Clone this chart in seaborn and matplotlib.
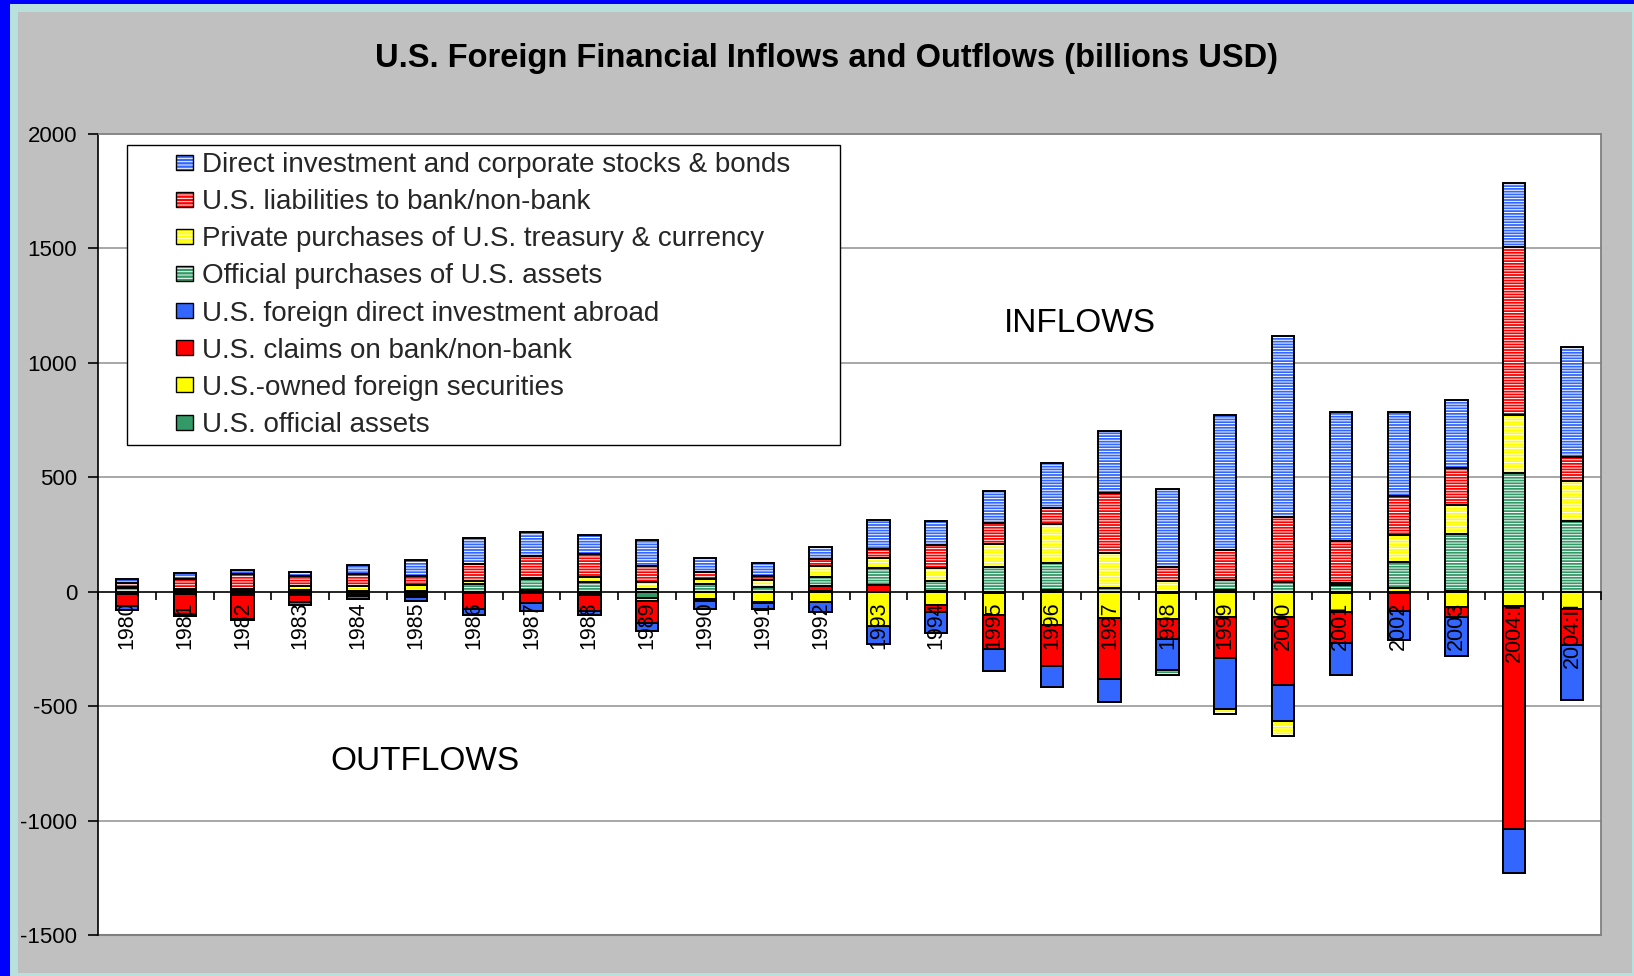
import matplotlib
matplotlib.use("Agg")
import matplotlib.pyplot as plt
from matplotlib.patches import Rectangle, Patch
from matplotlib.legend_handler import HandlerBase
from matplotlib.ticker import MultipleLocator
import numpy as np
import pandas as pd
import seaborn as sns

# ---- data (billions USD; inflows positive, outflows negative) ----
periods = ["1980", "1981", "1982", "1983", "1984", "1985", "1986", "1987", "1988",
           "1989", "1990", "1991", "1992", "1993", "1994", "1995", "1996", "1997",
           "1998", "1999", "2000", "2001", "2002", "2003", "2004:I", "2004:II"]

direct_investment = [21, 24, 19, 18, 38, 70, 113, 104, 86, 113, 58, 57, 52, 128, 104,
                     138, 198, 270, 337, 590, 790, 565, 370, 297, 282, 480]
liabilities = [16, 42, 62, 45, 50, 42, 76, 95, 100, 72, 34, 18, 30, 40, 104,
               92, 70, 265, 65, 130, 285, 182, 170, 160, 731, 105]
private_treasury = [6, 8, 10, 18, 24, 26, 10, 7, 22, 30, 20, 30, 48, 45, 55,
                    100, 168, 150, 45, -22, -65, 12, 118, 128, 255, 173]
official_purchases = [15, 6, 4, 6, 3, 3, 36, 45, 42, 12, 34, 22, 40, 72, 42,
                      110, 120, 18, -20, 43, 43, 28, 113, 250, 519, 310]
fdi_abroad = [-19, -10, -3, -13, -13, -17, -25, -36, -20, -33, -34, -26, -42, -80, -92,
              -97, -92, -100, -138, -220, -160, -140, -130, -170, -193, -240]
claims = [-50, -84, -105, -32, -12, -12, -70, -42, -70, -95, -12, -6, 20, 30, -30,
          -150, -180, -265, -85, -180, -295, -135, -78, -44, -975, -158]
foreign_securities = [-4, -6, -8, -7, -5, -8, -5, -5, -8, -17, -28, -42, -45, -146, -57,
                      -95, -145, -115, -115, -110, -110, -85, 16, -66, -62, -75]
official_assets = [-7, -5, -5, -6, -3, -4, -1, 9, -4, -25, -2, -3, 4, -2, 5,
                   -5, 7, -1, -4, 9, 0, -5, -4, 2, 0, 0]

# stacking order, from the zero line outward
series = [
    ("U.S. official assets", official_assets, "#339966", False),
    ("U.S.-owned foreign securities", foreign_securities, "#FFFF00", False),
    ("U.S. claims on bank/non-bank", claims, "#FF0000", False),
    ("U.S. foreign direct investment abroad", fdi_abroad, "#3366FF", False),
    ("Official purchases of U.S. assets", official_purchases, "#339966", True),
    ("Private purchases of U.S. treasury & currency", private_treasury, "#FFFF00", True),
    ("U.S. liabilities to bank/non-bank", liabilities, "#FF0000", True),
    ("Direct investment and corporate stocks & bonds", direct_investment, "#3366FF", True),
]

sns.set_style("white")
plt.rcParams["font.family"] = ["Liberation Sans", "DejaVu Sans"]
plt.rcParams["hatch.linewidth"] = 0.7
plt.rcParams["axes.unicode_minus"] = False

W, H = 1634, 976
HATCH = "------"
BAR_W = 0.386

fig = plt.figure(figsize=(W / 100, H / 100), dpi=100)
fig.patch.set_facecolor("#0000FF")
fig.add_artist(Rectangle((10 / W, 0), 1 - 10 / W, 1 - 4 / H, transform=fig.transFigure,
                         facecolor="#B8E0DC", edgecolor="none", zorder=-10))
fig.add_artist(Rectangle((18 / W, 3 / H), 1614 / W, 961 / H, transform=fig.transFigure,
                         facecolor="#C0C0C0", edgecolor="none", zorder=-9))

ax = fig.add_axes([98 / W, (976 - 935.3) / H, 1503 / W, (935.3 - 133.8) / H])
ax.set_facecolor("white")

# horizontal gridlines behind the bars
for yv in (-1000, -500, 500, 1000, 1500):
    ax.axhline(yv, color="#A0A0A0", linewidth=1.3, zorder=0)
ax.axhline(-1500, color="#808080", linewidth=1.5, clip_on=False, zorder=0)

vals = np.array([s[1] for s in series], dtype=float)
pos_cum = np.clip(vals, 0, None).cumsum(axis=0)
neg_cum = np.clip(vals, None, 0).cumsum(axis=0)

# draw cumulative totals from the outermost series inward so each layer shows its own slice
for k in reversed(range(len(series))):
    name, _, color, hatched = series[k]
    for cum in (pos_cum[k], neg_cum[k]):
        df = pd.DataFrame({"period": periods, "value": cum})
        sns.barplot(data=df, x="period", y="value", order=periods, color=color,
                    saturation=1, width=BAR_W, errorbar=None, ax=ax,
                    hatch=HATCH if hatched else None,
                    edgecolor="white" if hatched else color, linewidth=0)
        sns.barplot(data=df, x="period", y="value", order=periods, color=color,
                    saturation=1, width=BAR_W, errorbar=None, ax=ax,
                    facecolor="none", edgecolor="black", linewidth=1.4)

ax.set_xlabel("")
ax.set_ylabel("")
ax.grid(False)
ax.set_axisbelow(False)  # period labels sit on top of the bars
ax.set_xlim(-0.5, len(periods) - 0.5)
ax.set_ylim(-1500, 2000)
ax.yaxis.set_major_locator(MultipleLocator(500))

for side in ("top", "right"):
    ax.spines[side].set_color("#808080")
    ax.spines[side].set_linewidth(1.3)
ax.spines["left"].set_color("black")
ax.spines["left"].set_linewidth(1.2)
ax.spines["bottom"].set_position(("data", 0))
ax.spines["bottom"].set_color("black")
ax.spines["bottom"].set_linewidth(1.2)

ax.set_xticks(range(len(periods)))
ax.set_xticklabels(periods, rotation=90, fontsize=15.5)
ax.set_xticks(np.arange(-0.5, len(periods), 1.0), minor=True)
ax.tick_params(axis="x", which="major", length=0, pad=7, bottom=True)
ax.tick_params(axis="x", which="minor", length=6, width=1.2, color="black",
               direction="out", bottom=True)
ax.tick_params(axis="y", length=7, width=1.2, color="black", direction="out",
               pad=8, labelsize=16, left=True)
for lbl in ax.get_yticklabels() + ax.get_xticklabels():
    lbl.set_color("black")


class SwatchHandler(HandlerBase):
    def create_artists(self, legend, orig_handle, xdescent, ydescent, width, height,
                       fontsize, trans):
        sw, sh = 12.2, 10.8
        x = width - sw - xdescent
        y = (height - sh) / 2 - ydescent
        hatch = orig_handle.get_hatch()
        face = Rectangle((x, y), sw, sh, facecolor=orig_handle.get_facecolor(),
                         edgecolor="white" if hatch else "none", hatch=hatch,
                         linewidth=0, transform=trans)
        edge = Rectangle((x, y), sw, sh, facecolor="none", edgecolor="black",
                         linewidth=1.0, transform=trans)
        return [face, edge]


handles, labels = [], []
for name, _, color, hatched in reversed(series):
    handles.append(Patch(facecolor=color, hatch="-----" if hatched else None))
    labels.append(name)

leg = ax.legend(handles, labels, loc="upper left",
                bbox_to_anchor=(0.0193, 0.686, 0.4744, 0.3), mode="expand",
                borderaxespad=0, fontsize=20, handlelength=2.125, handleheight=0.6,
                handletextpad=0.32, borderpad=0.255, labelspacing=0.40,
                frameon=True, fancybox=False, edgecolor="black", framealpha=1,
                handler_map={Patch: SwatchHandler()})
leg.get_frame().set_linewidth(1.0)
leg.set_zorder(5)

fig.text(826 / W, (976 - 59) / H, "U.S. Foreign Financial Inflows and Outflows (billions USD)",
         ha="center", va="center", fontsize=23.5, fontweight="bold", color="black")
fig.text(1080 / W, (976 - 323) / H, "INFLOWS", ha="center", va="center",
         fontsize=24, color="black")
fig.text(425 / W, (976 - 761) / H, "OUTFLOWS", ha="center", va="center",
         fontsize=24, color="black")

fig.savefig("out.png", dpi=100, facecolor=fig.get_facecolor())
